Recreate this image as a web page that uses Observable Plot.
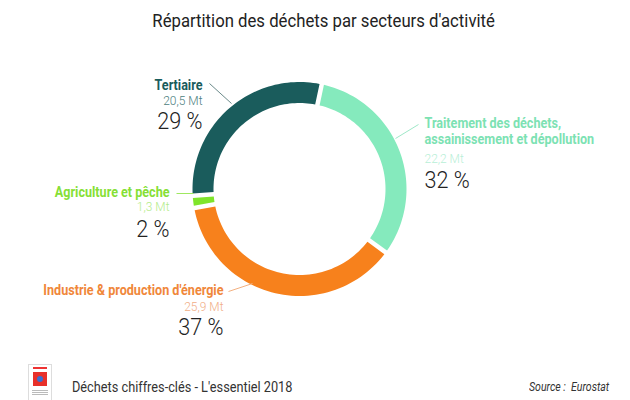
<!DOCTYPE html>
<html><head><meta charset="utf-8">
<script src="https://cdn.jsdelivr.net/npm/d3@7"></script>
<script src="https://cdn.jsdelivr.net/npm/@observablehq/plot@0.6"></script>
<style>
html,body{margin:0;padding:0;background:#fff;}
body{width:630px;height:400px;overflow:hidden;position:relative;font-family:"Roboto",sans-serif;}
#title{position:absolute;left:0;top:0;width:648px;height:40px;line-height:42px;text-align:center;font-size:19px;color:#222;}
#title span{display:inline-block;transform:scaleX(0.88);transform-origin:center;}
#chart{position:absolute;left:0;top:40px;}
#footer-text{position:absolute;left:72px;top:379px;font-size:14px;color:#333;transform:scaleX(0.91);transform-origin:left;}
#source{position:absolute;left:529px;top:380px;font-size:12px;font-style:italic;color:#333;transform:scaleX(0.88);transform-origin:left;}
#logo{position:absolute;left:28px;top:364px;width:22px;height:36px;border:1px solid #ddd;background:#fff;}
#logo .t{position:absolute;left:4px;top:2px;width:14px;height:2px;background:#e33;}
#logo .r{position:absolute;left:4px;top:7px;width:14px;height:14px;background:#e8302a;}
#logo .c{position:absolute;left:8px;top:11px;width:6px;height:6px;border-radius:3px;background:#3a6fd0;}
#logo .s{position:absolute;left:3px;top:25px;width:16px;height:6px;background:repeating-linear-gradient(#bbb 0 1px,#fff 1px 2px);}
</style></head><body>
<div id="title"><span>Répartition des déchets par secteurs d'activité</span></div>
<div id="chart"></div>
<div id="logo"><div class="t"></div><div class="r"></div><div class="c"></div><div class="s"></div></div>
<div id="footer-text">Déchets chiffres-clés - L'essentiel 2018</div>
<div id="source">Source :&nbsp; Eurostat</div>
<script>
// ---- data ----
const sectors = [
  "Traitement des déchets,\nassainissement et dépollution",
  "Industrie & production d'énergie",
  "Agriculture et pêche",
  "Tertiaire"
];
const tonnes = [22.2, 25.9, 1.3, 20.5];   // Mt
const shares = [32, 37, 2, 29];           // %

// ---- styles ----
const ringColors  = ["#85eabd", "#f7811c", "#7fe52b", "#1a5c5c"];
const nameColors  = ["#7ce2b3", "#f0873a", "#86df35", "#1a5c5c"];
const mtColors    = ["#b9efd7", "#f1ae86", "#b3ec8a", "#4d8080"];
const leadColors  = ["#9fe8c8", "#f3b080", "#9fe860", "#6b8a8a"];

// ---- layout (svg pixel coords) ----
const cx = 299, cy = 148.5, R = 107, r = 86, gap = 4.5;
const startDeg = 12;
const labelLayout = [
  {anchor: "start", x: 424, yName: 90.5, yMt: 118,   yPct: 140,   lead: [[395, 98], [418, 84]]},
  {anchor: "end",   x: 223, yName: 249.5, yMt: 266,  yPct: 286.5, lead: [[252, 243], [228, 251]]},
  {anchor: "end",   x: 169, yName: 151.5, yMt: 166.5, yPct: 188.5, lead: [[193, 153], [176, 153]]},
  {anchor: "end",   x: 202, yName: 44.5, yMt: 60,    yPct: 81,    lead: [[231, 63], [209, 43]]}
];

const fmt = v => d3.format(".1f")(v).replace(".", ",");
const table = sectors.map((s, i) => ({sector: s, tonnes: tonnes[i], share: shares[i], i}));

// ring polygons from d3.pie angles
const a0 = startDeg * Math.PI / 180;
const arcs = d3.pie().sort(null).value(d => d.tonnes).startAngle(a0).endAngle(a0 + 2 * Math.PI)(table);
const poly = [];
const pt = (rad, a) => [cx + rad * Math.sin(a), cy - rad * Math.cos(a)];
for (const arc of arcs) {
  const n = 60;
  const o0 = arc.startAngle + gap / 2 / R, o1 = arc.endAngle - gap / 2 / R;
  const i0 = arc.startAngle + gap / 2 / r, i1 = arc.endAngle - gap / 2 / r;
  for (let k = 0; k <= n; k++) { const [x, y] = pt(R, o0 + (o1 - o0) * k / n); poly.push({sector: arc.data.sector, x, y}); }
  for (let k = n; k >= 0; k--) { const [x, y] = pt(r, i0 + (i1 - i0) * k / n); poly.push({sector: arc.data.sector, x, y}); }
}

const labels = table.map(d => ({...d, ...labelLayout[d.i]}));
const leads = labels.map(d => ({i: d.i, x1: d.lead[0][0], y1: d.lead[0][1], x2: d.lead[1][0], y2: d.lead[1][1]}));

const textMarks = anchor => {
  const f = d => d.anchor === anchor;
  return [
    Plot.text(labels, {filter: f, x: "x", y: "yName", text: "sector", textAnchor: anchor, lineAnchor: "middle",
      fill: d => nameColors[d.i], fontWeight: "bold", fontSize: 14, lineHeight: 1.1,
      fontFamily: "Roboto, sans-serif", ariaDescription: "cond-0.9"}),
    Plot.text(labels, {filter: f, x: "x", y: "yMt", text: d => fmt(d.tonnes) + " Mt", textAnchor: anchor, lineAnchor: "middle",
      fill: d => mtColors[d.i], fontSize: 13, fontWeight: 300, fontFamily: "Roboto, sans-serif", ariaDescription: "cond-0.92"}),
    Plot.text(labels, {filter: f, x: "x", y: "yPct", text: d => d.share + " %", textAnchor: anchor, lineAnchor: "middle",
      fill: "#222", fontSize: 24, fontWeight: 300, fontFamily: "Roboto, sans-serif", ariaDescription: "cond-0.9"})
  ];
};

const chart = Plot.plot({
  width: 630, height: 320,
  margin: 0,
  x: {type: "identity", axis: null},
  y: {type: "identity", axis: null},
  color: {domain: sectors, range: ringColors},
  marks: [
    Plot.line(poly, {x: "x", y: "y", z: "sector", fill: "sector", stroke: "none"}),
    Plot.link(leads, {x1: "x1", y1: "y1", x2: "x2", y2: "y2", stroke: d => leadColors[d.i], strokeWidth: 1}),
    ...textMarks("start"),
    ...textMarks("end")
  ]
});
document.getElementById("chart").appendChild(chart);

// emulate a condensed face (Roboto Condensed is not available) by horizontal scaling
chart.querySelectorAll("g[aria-description^='cond-']").forEach(g => {
  const k = +g.getAttribute("aria-description").slice(5);
  g.querySelectorAll("text").forEach(t => {
    const tr = t.getAttribute("transform");
    if (tr) t.setAttribute("transform", tr + ` scale(${k},1)`);
    else {
      const x = +t.getAttribute("x") || 0, y = +t.getAttribute("y") || 0;
      t.removeAttribute("x"); t.removeAttribute("y");
      t.setAttribute("transform", `translate(${x},${y}) scale(${k},1)`);
    }
  });
});
</script>
</body></html>
